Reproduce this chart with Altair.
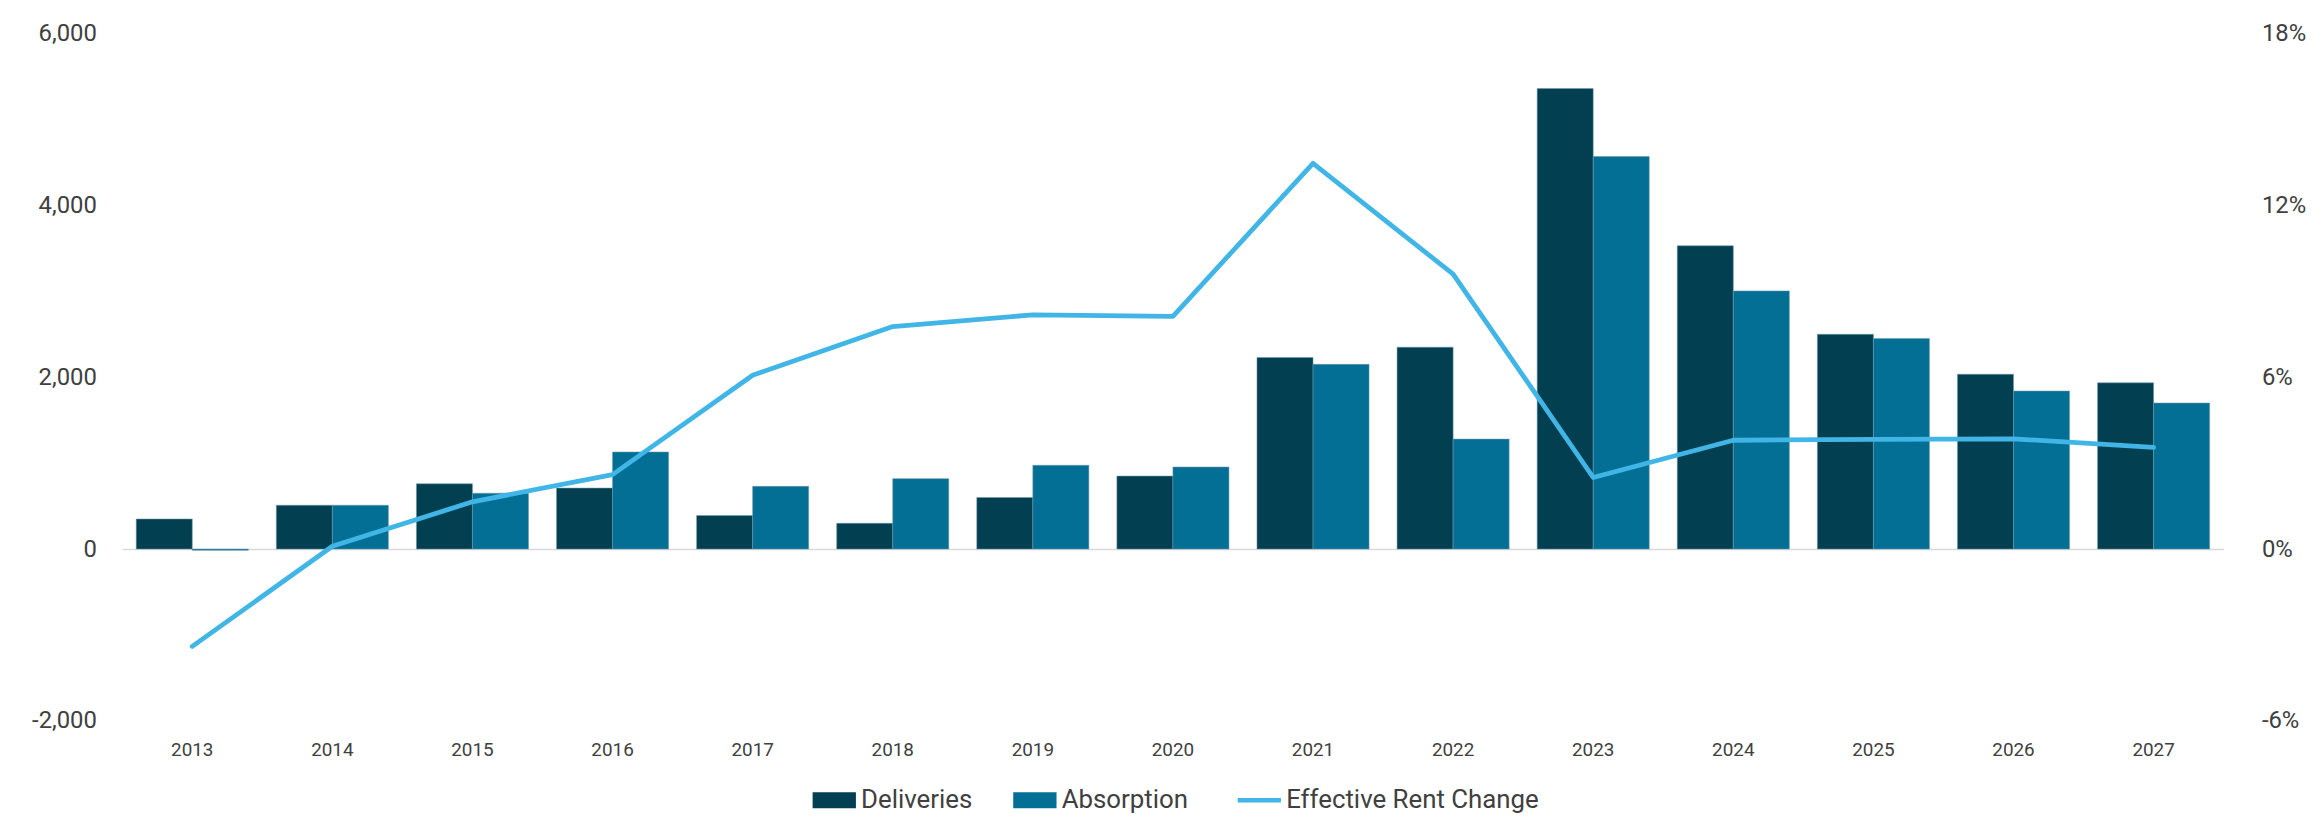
import altair as alt
import pandas as pd

years = [str(y) for y in range(2013, 2028)]
deliveries = [350, 510, 760, 710, 390, 300, 600, 850, 2230, 2350, 5360, 3530, 2500, 2035, 1935]
absorption = [-15, 510, 650, 1130, 730, 820, 975, 955, 2150, 1280, 4570, 3005, 2450, 1840, 1700]
rent_change = [-3.4, 0.1, 1.65, 2.6, 6.07, 7.77, 8.18, 8.13, 13.47, 9.6, 2.5, 3.8, 3.83, 3.85, 3.55]

series_names = ["Deliveries", "Absorption", "Effective Rent Change"]
series_colors = ["#013f51", "#036f95", "#41b6e6"]
left_ticks = [-2000, 0, 2000, 4000, 6000]
right_ticks = [-6, 0, 6, 12, 18]

bars_df = pd.DataFrame({
    "year": years * 2,
    "series": ["Deliveries"] * len(years) + ["Absorption"] * len(years),
    "value": deliveries + absorption,
})
line_df = pd.DataFrame({"year": years, "rent": rent_change,
                        "series": ["Effective Rent Change"] * len(years)})

FONT = "Roboto"
TEXT = "#404040"

legend = alt.Legend(
    title=None,
    orient="none",
    direction="horizontal",
    legendX=704,
    legendY=759,
    symbolType={"expr": "datum.value === 'Effective Rent Change' ? 'stroke' : 'M-1,-0.37H1V0.37H-1Z'"},
    symbolStrokeWidth={"expr": "datum.value === 'Effective Rent Change' ? 4.5 : 0"},
    symbolSize=1900,
    labelFontSize=26,
    labelFont=FONT,
    labelColor=TEXT,
    labelOffset=14,
    labelLimit=0,
    columnPadding=40,
    padding=0,
)

color_scale = alt.Scale(domain=series_names, range=series_colors)

x_enc = alt.X(
    "year:N",
    sort=years,
    scale=alt.Scale(paddingInner=0.2, paddingOuter=0.1),
    axis=alt.Axis(
        title=None, labelAngle=0, labelFontSize=19, labelFont=FONT, labelColor=TEXT,
        labelPadding=20, ticks=False, tickSize=0, domain=False, grid=False,
    ),
)

bars = alt.Chart(bars_df).mark_bar(stroke="#6f98aa", strokeWidth=0.8, strokeOpacity=0.7).encode(
    x=x_enc,
    xOffset=alt.XOffset("series:N", sort=["Deliveries", "Absorption"],
                        scale=alt.Scale(paddingInner=0, paddingOuter=0)),
    y=alt.Y(
        "value:Q",
        scale=alt.Scale(domain=[-2000, 6000], nice=False, zero=False),
        axis=alt.Axis(
            title=None, values=left_ticks, orient="left",
            labelExpr="(datum.value < 0 ? '-' : '') + format(abs(datum.value), ',')",
            labelFontSize=24, labelFont=FONT, labelColor=TEXT, labelPadding=26,
            ticks=False, tickSize=0, domain=False, grid=True,
            gridColor={"condition": {"test": "datum.value === 0", "value": "#d9d9d9"},
                       "value": "rgba(0,0,0,0)"},
            gridWidth=1.5,
        ),
    ),
    color=alt.Color("series:N", scale=color_scale, legend=legend),
)

line = alt.Chart(line_df).mark_line(strokeWidth=4.8, strokeCap="round", strokeJoin="round").encode(
    x=x_enc,
    y=alt.Y(
        "rent:Q",
        scale=alt.Scale(domain=[-6, 18], nice=False, zero=False),
        axis=alt.Axis(
            title=None, values=right_ticks, orient="right",
            labelExpr="(datum.value < 0 ? '-' : '') + format(abs(datum.value), 'd') + '%'",
            labelFontSize=24, labelFont=FONT, labelColor=TEXT, labelPadding=38,
            ticks=False, tickSize=0, domain=False, grid=False,
        ),
    ),
    color=alt.Color("series:N", scale=color_scale, legend=legend),
)

chart = alt.layer(bars, line).resolve_scale(y="independent").properties(
    width=2116,
    height=692,
    padding={"left": 23, "top": 11, "right": 10, "bottom": 5},
    background="white",
).configure_view(stroke=None)

chart.save("out.html", embed_options={"renderer": "svg", "actions": False})
